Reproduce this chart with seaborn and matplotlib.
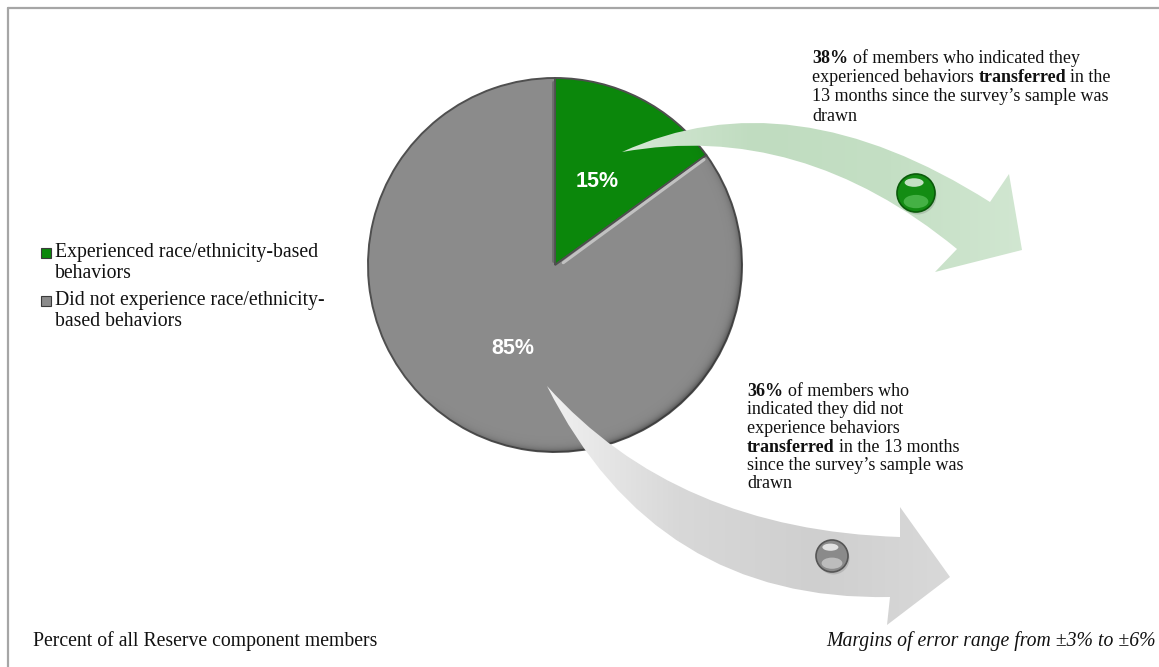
import numpy as np
import matplotlib
matplotlib.use("Agg")
import matplotlib.pyplot as plt
import seaborn as sns
from matplotlib.path import Path
from matplotlib.patches import PathPatch, Rectangle, Circle, Ellipse
from matplotlib.lines import Line2D
from matplotlib.colors import LinearSegmentedColormap

# ---- data -------------------------------------------------------------
categories = [
    "Experienced race/ethnicity-based behaviors",
    "Did not experience race/ethnicity-based behaviors",
]
legend_lines = [
    ["Experienced race/ethnicity-based", "behaviors"],
    ["Did not experience race/ethnicity-", "based behaviors"],
]
shares = [15, 85]            # percent of all Reserve component members
transferred = [38, 36]       # percent of each group that transferred
slice_colors = ["#0b870b", "#8b8b8b"]

footer_left = "Percent of all Reserve component members"
footer_right = "Margins of error range from \u00b13% to \u00b16%"

# ---- figure -----------------------------------------------------------
sns.set_theme(style="white")
plt.rcParams["font.family"] = ["Liberation Serif", "DejaVu Serif"]

W, H = 1159, 667
fig = plt.figure(figsize=(W / 100, H / 100), dpi=100)
ax = fig.add_axes([0, 0, 1, 1])
ax.set_xlim(0, W)
ax.set_ylim(H, 0)

CX, CY, R = 555, 265, 187

# pie (y axis points down, so angles run the other way)
wedges, _, autotexts = ax.pie(
    shares,
    colors=slice_colors,
    startangle=-90,
    counterclock=True,
    center=(CX, CY),
    radius=R,
    autopct="%.0f%%",
    pctdistance=0.5,
    wedgeprops=dict(edgecolor="#4f4f4f", linewidth=1.4),
    textprops=dict(color="white", fontsize=15.5, fontweight="bold",
                   family="Liberation Sans"),
)
for w in wedges:
    w.set_zorder(2)
for t in autotexts:
    t.set_zorder(6)

# bevel shading: soft dark rim toward the lower right of the disc
gx, gy = np.meshgrid(np.arange(CX - R, CX + R + 1, 0.5),
                     np.arange(CY - R, CY + R + 1, 0.5))
dist = np.hypot(gx - CX, gy - CY)
ang = np.arctan2(gy - CY, gx - CX)
side = np.clip(np.cos(ang - np.deg2rad(45)), 0, None) ** 0.8
depth = np.clip(R - dist, 0, None)
alpha = 0.55 * side * np.exp(-depth / 3.2)
rim = np.zeros(gx.shape + (4,))
rim[..., :3] = 0.15
rim[..., 3] = alpha
rim_img = ax.imshow(rim, extent=(CX - R, CX + R, CY + R, CY - R),
                    interpolation="bilinear", zorder=3)
disc = Circle((CX, CY), R, transform=ax.transData, facecolor="none",
              edgecolor="none")
ax.add_patch(disc)
rim_img.set_clip_path(disc)

# light seam between the slices and a dark seam along the vertical edge
seam = np.deg2rad(wedges[0].theta2)
nx, ny = -np.sin(seam), np.cos(seam)
ax.add_line(Line2D([CX + 3 * nx + 8 * np.cos(seam), CX + R * np.cos(seam) + 3 * nx - 4],
                   [CY + 3 * ny + 8 * np.sin(seam), CY + R * np.sin(seam) + 3 * ny + 2],
                   color="#cfcfcf", linewidth=2.2, alpha=0.8, zorder=3))
ax.add_line(Line2D([CX - 2, CX - 2], [CY - R + 4, CY - 4],
                   color="#5a5a5a", linewidth=2, alpha=0.6, zorder=3))


def arrow_patch(tail, c_up, neck_up, barb_up, tip, barb_lo, neck_lo, c_lo, z):
    verts = [tail, c_up, neck_up, barb_up, tip, barb_lo, neck_lo, c_lo, tail, tail]
    codes = [Path.MOVETO, Path.CURVE3, Path.CURVE3, Path.LINETO, Path.LINETO,
             Path.LINETO, Path.LINETO, Path.CURVE3, Path.CURVE3, Path.CLOSEPOLY]
    p = PathPatch(Path(verts, codes), facecolor="none", edgecolor="none", zorder=z)
    ax.add_patch(p)
    return p


def gradient_fill(patch, cols, extent, z):
    cmap = LinearSegmentedColormap.from_list("g", cols)
    grad = np.linspace(0, 1, 256).reshape(1, -1)
    im = ax.imshow(grad, cmap=cmap, extent=extent, aspect="auto",
                   interpolation="bicubic", zorder=z)
    im.set_clip_path(patch)


# curved arrow leaving the green slice
g_arrow = arrow_patch((622, 152), (790, 75), (990, 202), (1009, 174),
                      (1022, 250), (935, 272), (957, 249), (800, 120), 4)
gradient_fill(g_arrow, ["#d6e9d6", "#c0dcc0", "#c4dfc4", "#d2e7d2"],
              (615, 1030, 280, 70), 4)

# curved arrow leaving the gray slice
k_arrow = arrow_patch((547, 386), (676, 530), (900, 537), (900, 507),
                      (950, 577), (887, 625), (890, 597), (655, 602), 4)
gradient_fill(k_arrow, ["#f2f2f2", "#d8d8d8", "#cfcfcf", "#d9d9d9"],
              (540, 955, 630, 380), 4)


def glossy_ball(cx, cy, r, base, dark, light):
    ax.add_patch(Circle((cx + 1.5, cy + 2.5), r, facecolor="#000000",
                        alpha=0.12, edgecolor="none", zorder=5))
    ax.add_patch(Circle((cx, cy), r, facecolor=base, edgecolor=dark,
                        linewidth=1.2, zorder=5))
    ax.add_patch(Ellipse((cx, cy + r * 0.45), r * 1.3, r * 0.7,
                         facecolor=light, alpha=0.55, edgecolor="none", zorder=5))
    ax.add_patch(Ellipse((cx - r * 0.1, cy - r * 0.55), r * 1.0, r * 0.45,
                         facecolor="white", alpha=0.75, edgecolor="none", zorder=5))


glossy_ball(916, 193, 19, "#138c13", "#0a5a0a", "#6fd06f")
glossy_ball(832, 556, 16, "#8a8a8a", "#555555", "#e6e6e6")

# ---- annotations with bold runs --------------------------------------
renderer = fig.canvas.get_renderer()


def text_width(s, size, weight):
    t = ax.text(0, 0, s, fontsize=size, fontweight=weight)
    w = t.get_window_extent(renderer).width
    t.remove()
    return w


def rich_block(x, y0, step, lines, size):
    space = text_width("a a", size, "normal") - text_width("aa", size, "normal")
    for i, runs in enumerate(lines):
        cx = x
        y = y0 + i * step
        for s, bold in runs:
            weight = "bold" if bold else "normal"
            ax.text(cx, y, s, fontsize=size, fontweight=weight, color="#111111",
                    ha="left", va="baseline", zorder=7)
            cx += text_width(s, size, weight) + space


top_note = [
    [(f"{transferred[0]}%", True), ("of members who indicated they", False)],
    [("experienced behaviors", False), ("transferred", True), ("in the", False)],
    [("13 months since the survey\u2019s sample was", False)],
    [("drawn", False)],
]
bottom_note = [
    [(f"{transferred[1]}%", True), ("of members who", False)],
    [("indicated they did not", False)],
    [("experience behaviors", False)],
    [("transferred", True), ("in the 13 months", False)],
    [("since the survey\u2019s sample was", False)],
    [("drawn", False)],
]
rich_block(812, 63, 19.2, top_note, 13)
rich_block(747, 396, 18.5, bottom_note, 13)

# ---- legend -------------------------------------------------------------
leg_base = [257, 305]
for col, lines, yb in zip(slice_colors, legend_lines, leg_base):
    ax.add_patch(Rectangle((41, yb - 9.5), 10, 10, facecolor=col,
                           edgecolor="#3a3a3a", linewidth=0.8, zorder=7))
    for k, line in enumerate(lines):
        ax.text(55, yb + k * 21.5, line, fontsize=14.2, color="#111111",
                ha="left", va="baseline", zorder=7)

# ---- footers ------------------------------------------------------------
ax.text(33, 646, footer_left, fontsize=14.2, color="#111111",
        ha="left", va="baseline")
ax.text(1156, 646, footer_right, fontsize=14.2, style="italic",
        color="#111111", ha="right", va="baseline")

# frame lines along the top and left edges
ax.add_line(Line2D([8, W], [8, 8], color="#a6a6a6", linewidth=1.6, zorder=8))
ax.add_line(Line2D([8, 8], [8, H], color="#a6a6a6", linewidth=1.6, zorder=8))

ax.set_xlim(0, W)
ax.set_ylim(H, 0)
ax.set_aspect("equal")
ax.axis("off")

fig.savefig("out.png", dpi=100, facecolor="white")
